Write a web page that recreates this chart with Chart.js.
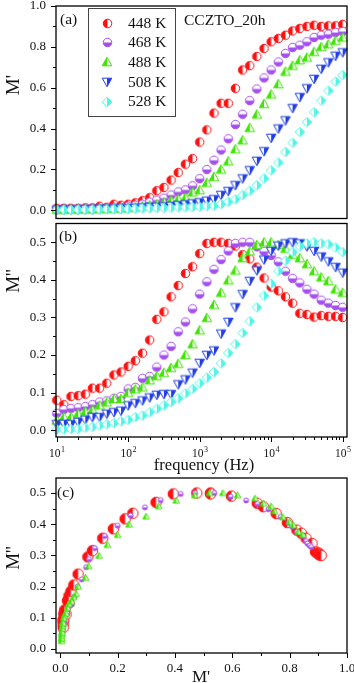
<!DOCTYPE html>
<html><head><meta charset="utf-8">
<script src="https://cdn.jsdelivr.net/npm/chart.js@4.4.1/dist/chart.umd.min.js"></script>
<style>
html,body{margin:0;padding:0;background:#fff;}
#wrap{position:relative;width:354px;height:683px;overflow:hidden;}
canvas{position:absolute;left:0;}
</style></head><body>
<div id="wrap">
<canvas id="ca" width="354" height="224" style="top:0px"></canvas>
<canvas id="cb" width="354" height="258" style="top:218px"></canvas>
<canvas id="cc" width="354" height="213" style="top:470px"></canvas>
</div>
<script>
// ---------------- data ----------------
const frequency = [10, 12.59, 15.85, 19.95, 25.12, 31.62, 39.81, 50.12, 63.1, 79.43,
  100, 125.9, 158.5, 199.5, 251.2, 316.2, 398.1, 501.2, 631, 794.3,
  1000, 1259, 1585, 1995, 2512, 3162, 3981, 5012, 6310, 7943,
  10000, 12589, 15849, 19953, 25119, 31623, 39811, 50119, 63096, 79433, 100000];

const temperatures = ['448 K', '468 K', '488 K', '508 K', '528 K'];

// M' (real part of modulus)
const mReal448 = [0.010,0.010,0.010,0.010,0.012,0.012,0.020,0.015,0.030,0.025,
  0.030,0.037,0.047,0.062,0.096,0.112,0.148,0.185,0.226,0.253,
  0.334,0.394,0.476,0.524,0.524,0.597,0.687,0.708,0.753,0.792,
  0.825,0.841,0.857,0.878,0.890,0.900,0.906,0.900,0.903,0.903,0.910];
const mReal468 = [0.005,0.006,0.006,0.007,0.008,0.008,0.010,0.010,0.012,0.014,
  0.020,0.025,0.030,0.040,0.050,0.060,0.075,0.090,0.100,0.120,
  0.155,0.200,0.245,0.295,0.350,0.420,0.470,0.537,0.594,0.648,
  0.687,0.726,0.768,0.797,0.808,0.825,0.846,0.857,0.862,0.870,0.875];
const mReal488 = [0.004,0.004,0.005,0.005,0.006,0.006,0.007,0.008,0.009,0.010,
  0.012,0.015,0.020,0.025,0.030,0.039,0.047,0.055,0.062,0.088,
  0.099,0.135,0.164,0.200,0.240,0.299,0.343,0.404,0.469,0.521,
  0.567,0.618,0.679,0.708,0.735,0.748,0.776,0.800,0.813,0.830,0.846];
const mReal508 = [0.003,0.003,0.004,0.004,0.005,0.005,0.006,0.007,0.008,0.009,
  0.010,0.012,0.014,0.015,0.017,0.019,0.022,0.025,0.029,0.034,
  0.039,0.047,0.054,0.075,0.094,0.123,0.156,0.196,0.242,0.289,
  0.354,0.400,0.440,0.500,0.554,0.597,0.643,0.692,0.724,0.756,0.773];
const mReal528 = [0.002,0.002,0.002,0.003,0.003,0.004,0.004,0.005,0.005,0.006,
  0.007,0.008,0.009,0.010,0.011,0.012,0.013,0.014,0.015,0.016,
  0.017,0.020,0.023,0.031,0.042,0.054,0.075,0.096,0.123,0.156,
  0.196,0.234,0.286,0.331,0.383,0.432,0.480,0.537,0.586,0.630,0.662];

// M'' (imaginary part of modulus)
const mImag448 = [0.080,0.068,0.090,0.092,0.096,0.112,0.112,0.125,0.147,0.155,
  0.170,0.185,0.205,0.240,0.295,0.315,0.355,0.385,0.417,0.435,
  0.470,0.497,0.500,0.500,0.497,0.490,0.467,0.456,0.434,0.405,
  0.381,0.371,0.355,0.338,0.311,0.308,0.301,0.305,0.303,0.303,0.300];
const mImag468 = [0.045,0.055,0.058,0.060,0.063,0.068,0.075,0.078,0.085,0.090,
  0.110,0.114,0.138,0.143,0.168,0.200,0.223,0.262,0.288,0.323,
  0.362,0.395,0.428,0.454,0.477,0.497,0.500,0.500,0.488,0.476,
  0.465,0.448,0.423,0.404,0.392,0.375,0.362,0.346,0.338,0.332,0.327];
const mImag488 = [0.026,0.035,0.035,0.044,0.050,0.054,0.066,0.074,0.083,0.083,
  0.100,0.109,0.114,0.133,0.144,0.153,0.166,0.177,0.200,0.229,
  0.266,0.299,0.334,0.366,0.399,0.425,0.458,0.476,0.493,0.500,
  0.500,0.493,0.483,0.467,0.458,0.442,0.423,0.407,0.397,0.375,0.366];
const mImag508 = [0.016,0.017,0.016,0.022,0.028,0.035,0.035,0.044,0.048,0.052,
  0.066,0.072,0.079,0.087,0.094,0.096,0.096,0.122,0.135,0.153,
  0.179,0.200,0.212,0.257,0.288,0.327,0.362,0.397,0.425,0.454,
  0.477,0.491,0.497,0.500,0.497,0.489,0.477,0.462,0.449,0.434,0.419];
const mImag528 = [0.002,0.002,0.003,0.004,0.007,0.009,0.013,0.016,0.019,0.024,
  0.028,0.035,0.039,0.048,0.057,0.066,0.075,0.085,0.098,0.110,
  0.125,0.140,0.155,0.178,0.205,0.229,0.259,0.290,0.327,0.358,
  0.390,0.423,0.451,0.474,0.489,0.497,0.500,0.497,0.495,0.486,0.474];

// tick values
const yTicksA = [0, 0.2, 0.4, 0.6, 0.8, 1.0];
const yMinorA = [0.1, 0.3, 0.5, 0.7, 0.9];
const yTicksB = [0, 0.1, 0.2, 0.3, 0.4, 0.5];
const yMinorB = [0.05, 0.15, 0.25, 0.35, 0.45];
const xDecades = [10, 100, 1000, 10000, 100000];
const xDecadeExp = ['1', '2', '3', '4', '5'];
const yTicksC = [0, 0.1, 0.2, 0.3, 0.4, 0.5];
const yMinorC = [0.05, 0.15, 0.25, 0.35, 0.45];
const xTicksC = [0, 0.2, 0.4, 0.6, 0.8, 1.0];
const xMinorC = [0.1, 0.3, 0.5, 0.7, 0.9];

// ---------------- styling ----------------
const FONT = "'Liberation Serif','Times New Roman',serif";
const INK = '#111';
const colors = ['#ff1010', '#a64ff0', '#3ce600', '#1f3de8', '#4ff5e6'];
const shapes = ['circle', 'circle', 'up', 'down', 'diamond'];
const halves = ['left', 'bottom', 'left', 'right', 'right'];

function marker(shape, color, size, half) {
  const pad = 2, S = Math.ceil(size + pad * 2);
  const c = document.createElement('canvas');
  c.width = S; c.height = S;
  const g = c.getContext('2d');
  const cx = S / 2, cy = S / 2, r = size / 2;
  function path() {
    g.beginPath();
    if (shape === 'circle') g.arc(cx, cy, r, 0, Math.PI * 2);
    else if (shape === 'up') { g.moveTo(cx, cy - r); g.lineTo(cx + r, cy + r * 0.8); g.lineTo(cx - r, cy + r * 0.8); g.closePath(); }
    else if (shape === 'down') { g.moveTo(cx, cy + r); g.lineTo(cx + r, cy - r * 0.8); g.lineTo(cx - r, cy - r * 0.8); g.closePath(); }
    else { g.moveTo(cx, cy - r); g.lineTo(cx + r, cy); g.lineTo(cx, cy + r); g.lineTo(cx - r, cy); g.closePath(); }
  }
  path(); g.fillStyle = '#fff'; g.fill();
  g.save(); g.beginPath();
  if (half === 'left') g.rect(0, 0, cx, S);
  else if (half === 'right') g.rect(cx, 0, S, S);
  else if (half === 'bottom') g.rect(0, cy, S, S);
  else g.rect(0, 0, S, cy);
  g.clip(); path(); g.fillStyle = color; g.fill(); g.restore();
  path(); g.strokeStyle = color; g.lineWidth = 1; g.stroke();
  return c;
}
const markSize = [8.5, 8.5, 9.5, 9.5, 9.5];
const markersAB = colors.map((c, i) => marker(shapes[i], c, markSize[i], halves[i]));
const markersC = [marker('circle', colors[0], 10.5, 'left'), marker('circle', colors[1], 5, 'bottom'), marker('up', colors[2], 6.5, 'left')];

const realSets = [mReal448, mReal468, mReal488, mReal508, mReal528];
const imagSets = [mImag448, mImag468, mImag488, mImag508, mImag528];

// ---------------- decoration plugin ----------------
const decoPlugin = {
  id: 'deco',
  afterDraw(chart, args, o) {
    const ctx = chart.ctx, a = chart.chartArea, xs = chart.scales.x, ys = chart.scales.y;
    const T = o.top;
    ctx.save();
    ctx.strokeStyle = '#000'; ctx.lineWidth = 1;
    const line = (x1, y1, x2, y2) => { ctx.beginPath(); ctx.moveTo(x1, y1); ctx.lineTo(x2, y2); ctx.stroke(); };
    o.yMajor.forEach(v => { const y = Math.round(ys.getPixelForValue(v)) + 0.5; line(a.left - 5, y, a.left, y); });
    o.yMinor.forEach(v => { const y = Math.round(ys.getPixelForValue(v)) + 0.5; line(a.left - 3, y, a.left, y); });
    if (o.xMajor) o.xMajor.forEach(v => { const x = Math.round(xs.getPixelForValue(v)) + 0.5; line(x, a.bottom, x, a.bottom + 5); });
    if (o.xMinor) o.xMinor.forEach(v => { const x = Math.round(xs.getPixelForValue(v)) + 0.5; line(x, a.bottom, x, a.bottom + 3); });
    // frame
    ctx.lineWidth = 1.3;
    ctx.strokeRect(a.left, a.top, a.right - a.left, a.bottom - a.top);
    ctx.fillStyle = INK;
    // log labels
    if (o.supLabels) {
      xDecades.forEach((v, i) => {
        const x = xs.getPixelForValue(v);
        ctx.font = '11.5px ' + FONT;
        const w1 = ctx.measureText('10').width;
        ctx.font = '8px ' + FONT;
        const w2 = ctx.measureText(xDecadeExp[i]).width;
        const x0 = x - (w1 + w2) / 2;
        ctx.textBaseline = 'alphabetic'; ctx.textAlign = 'left';
        ctx.font = '11.5px ' + FONT; ctx.fillText('10', x0, 457 - T);
        ctx.font = '8px ' + FONT; ctx.fillText(xDecadeExp[i], x0 + w1 + 0.5, 452 - T);
      });
    }
    (o.texts || []).forEach(t => {
      ctx.save();
      ctx.font = t.size + 'px ' + FONT;
      ctx.textBaseline = 'middle';
      ctx.textAlign = t.align || 'left';
      ctx.translate(t.x, t.y - T);
      if (t.rot) ctx.rotate(-Math.PI / 2);
      ctx.fillText(t.t, 0, 0);
      ctx.restore();
    });
    if (o.legend) {
      ctx.lineWidth = 1; ctx.strokeStyle = '#444';
      ctx.strokeRect(88.5, 8.5, 87, 108);
      ctx.font = '15.5px ' + FONT; ctx.textBaseline = 'middle'; ctx.textAlign = 'left'; ctx.fillStyle = INK;
      temperatures.forEach((lab, i) => {
        const y = 23 + i * 19.7;
        const m = markersAB[i];
        ctx.drawImage(m, Math.round(107 - m.width / 2), Math.round(y - m.height / 2));
        ctx.fillText(lab, 128, y + 0.5);
      });
    }
    ctx.restore();
  }
};

function zeroPad(s) { s.paddingTop = 0; s.paddingBottom = 0; s.paddingLeft = 0; s.paddingRight = 0; }
function yScale(min, max, ticks) {
  return {
    type: 'linear', position: 'left', min, max,
    afterBuildTicks: s => { s.ticks = ticks.map(v => ({ value: v })); },
    afterFit: s => { s.width = 56; zeroPad(s); },
    grid: { display: false, drawTicks: false }, border: { display: false },
    ticks: { padding: 10, color: INK, font: { family: FONT, size: 13 }, callback: v => Number(v).toFixed(1) }
  };
}
function logX() {
  return { type: 'logarithmic', min: 9.78, max: 115000, display: false, afterFit: s => { zeroPad(s); } };
}
function baseOptions(padding, x, y, deco) {
  return {
    responsive: false, animation: false, devicePixelRatio: 1, events: [],
    layout: { padding },
    plugins: { legend: { display: false }, tooltip: { enabled: false }, deco },
    scales: { x, y }
  };
}
function freqSets(values) {
  return values.map((arr, i) => ({
    label: temperatures[i],
    data: frequency.map((f, k) => ({ x: f, y: arr[k] })),
    pointStyle: markersAB[i], pointRadius: 4.5, order: 5 - i, clip: false
  }));
}

// Panel (a): M' vs frequency
new Chart(document.getElementById('ca'), {
  type: 'scatter',
  data: { datasets: freqSets(realSets) },
  options: baseOptions({ top: 6, right: 7, bottom: 4, left: 0 }, logX(), yScale(-0.04, 1.0, yTicksA), {
    top: 0, yMajor: yTicksA, yMinor: yMinorA, legend: true,
    texts: [
      { t: '(a)', x: 60, y: 20, size: 15.5 },
      { t: 'CCZTO_20h', x: 184, y: 21, size: 15.5 },
      { t: "M'", x: 14, y: 85, size: 19, rot: true, align: 'center' }
    ]
  }),
  plugins: [decoPlugin]
});

// Panel (b): M'' vs frequency
const logMinor = [];
[10, 100, 1000, 10000].forEach(d => { [2, 3, 4, 5, 6, 7, 8, 9].forEach(m => logMinor.push(d * m)); });
new Chart(document.getElementById('cb'), {
  type: 'scatter',
  data: { datasets: freqSets(imagSets) },
  options: baseOptions({ top: 2, right: 7, bottom: 39, left: 0 }, logX(), yScale(-0.018, 0.55, yTicksB), {
    top: 218, yMajor: yTicksB, yMinor: yMinorB, xMajor: xDecades, xMinor: logMinor, supLabels: true,
    texts: [
      { t: '(b)', x: 59, y: 237, size: 15.5 },
      { t: "M''", x: 14, y: 281, size: 19, rot: true, align: 'center' },
      { t: 'frequency (Hz)', x: 204, y: 466, size: 16.5, align: 'center' }
    ]
  }),
  plugins: [decoPlugin]
});

// Panel (c): M'' vs M'
const cOrder = [0, 1, 2];
const datasetsC = cOrder.map(i => ({
  label: temperatures[i],
  data: realSets[i].map((v, k) => ({ x: v, y: imagSets[i][k] })),
  pointStyle: markersC[i], pointRadius: 4, order: 3 - i, clip: false
}));
const xC = {
  type: 'linear', position: 'bottom', min: -0.015, max: 1.0,
  afterBuildTicks: s => { s.ticks = xTicksC.map(v => ({ value: v })); },
  afterFit: s => { s.height = 30; zeroPad(s); },
  grid: { display: false, drawTicks: false }, border: { display: false },
  ticks: { padding: 8, color: INK, font: { family: FONT, size: 13 }, maxRotation: 0, autoSkip: false, callback: v => Number(v).toFixed(1) }
};
new Chart(document.getElementById('cc'), {
  type: 'scatter',
  data: { datasets: datasetsC },
  options: baseOptions({ top: 8, right: 7, bottom: 0, left: 0 }, xC, yScale(-0.013, 0.548, yTicksC), {
    top: 470, yMajor: yTicksC, yMinor: yMinorC, xMajor: xTicksC, xMinor: xMinorC,
    texts: [
      { t: '(c)', x: 57, y: 493, size: 15.5 },
      { t: "M''", x: 14, y: 558, size: 19, rot: true, align: 'center' },
      { t: "M'", x: 201, y: 678, size: 17, align: 'center' }
    ]
  }),
  plugins: [decoPlugin]
});
</script>
</body></html>
